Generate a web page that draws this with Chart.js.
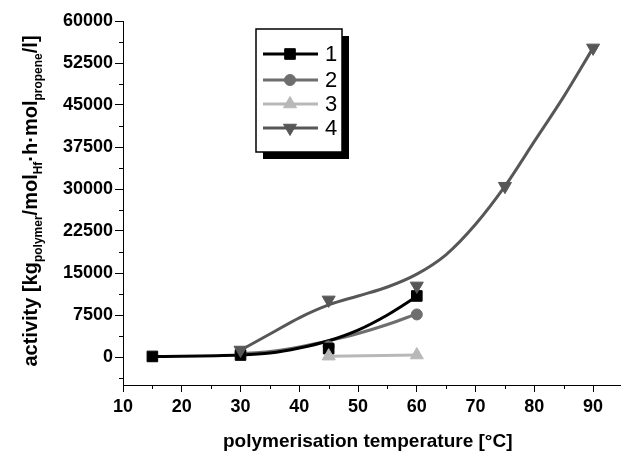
<!DOCTYPE html>
<html>
<head>
<meta charset="utf-8">
<script src="https://cdn.jsdelivr.net/npm/chart.js@4/dist/chart.umd.min.js"></script>
<style>
  html, body { margin: 0; padding: 0; background: #fff; overflow: hidden; }
  canvas { display: block; }
</style>
</head>
<body>
<canvas id="c" width="621" height="453"></canvas>
<script>
const labels = ['1', '2', '3', '4'];
const s1x = [15, 30, 45, 60];
const s1y = [100, 350, 1500, 10900];
const s2x = [30, 45, 60];
const s2y = [700, 1900, 7600];
const s3x = [45, 60];
const s3y = [150, 350];
const s4x = [30, 45, 60, 75, 90];
const s4y = [1250, 10200, 12700, 30500, 55200];

// smoothed curves as they run through the figure
const c1x = [15, 30, 35, 40, 45, 50, 55, 60];
const c1y = [100, 350, 700, 1600, 2900, 4800, 7500, 10800];
const c2x = [30, 35, 40, 45, 50, 55, 60];
const c2y = [600, 1000, 1800, 2900, 4200, 5800, 7700];
const c3x = [45, 60];
const c3y = [150, 350];
const c4x = [30, 35, 40, 45, 50, 55, 60, 65, 70, 75, 80, 85, 90];
const c4y = [1200, 4100, 7000, 9300, 10900, 12500, 14800, 18300, 23700, 30500, 38500, 46500, 55200];

const xTicks = [10, 20, 30, 40, 50, 60, 70, 80, 90];
const yTicks = [0, 7500, 15000, 22500, 30000, 37500, 45000, 52500, 60000];

const colors = ['#000000', '#6e6e6e', '#b8b8b8', '#575757'];
const styles = ['rect', 'circle', 'triangle', 'triangle'];
const rotations = [0, 0, 0, 180];
const radii = [7.5, 5.5, 7.5, 7.5];

const zip = (xs, ys) => xs.map((x, i) => ({ x: x, y: ys[i] }));

function markers(i, xs, ys) {
    return {
        label: labels[i],
        data: zip(xs, ys),
        showLine: false,
        pointStyle: styles[i],
        rotation: rotations[i],
        pointRadius: radii[i],
        backgroundColor: colors[i],
        borderColor: colors[i],
        borderWidth: 1
    };
}
function curve(i, xs, ys) {
    return {
        label: 'curve' + labels[i],
        data: zip(xs, ys),
        showLine: true,
        pointRadius: 0,
        borderColor: colors[i],
        borderWidth: 3,
        cubicInterpolationMode: 'monotone',
        fill: false
    };
}

const datasets = [
    markers(3, s4x, s4y),
    markers(2, s3x, s3y),
    markers(0, s1x, s1y),
    markers(1, s2x, s2y),
    curve(0, c1x, c1y),
    curve(3, c4x, c4y),
    curve(1, c2x, c2y),
    curve(2, c3x, c3y)
];

const extras = {
    id: 'extras',
    afterDraw(chart) {
        const ctx = chart.ctx;
        const xs = chart.scales.x, ys = chart.scales.y;
        const area = chart.chartArea;
        ctx.save();
        ctx.strokeStyle = '#000';
        ctx.lineWidth = 1;
        ctx.beginPath();
        // x axis line runs on to the right edge
        const by0 = Math.round(area.bottom) + 0.5;
        ctx.moveTo(area.right - 1, by0);
        ctx.lineTo(chart.width, by0);
        // minor ticks
        for (let v = 15; v <= 85; v += 10) {
            const px = Math.round(xs.getPixelForValue(v)) + 0.5;
            ctx.moveTo(px, area.bottom);
            ctx.lineTo(px, area.bottom + 4);
        }
        for (let v = -3750; v <= 56250; v += 7500) {
            const py = Math.round(ys.getPixelForValue(v)) + 0.5;
            ctx.moveTo(area.left, py);
            ctx.lineTo(area.left - 4, py);
        }
        ctx.stroke();

        // y axis title with subscripts
        const parts = [
            ['activity [kg', 0], ['polymer', 1], ['/mol', 0], ['Hf', 1],
            ['\u00b7h\u00b7mol', 0], ['propene', 1], ['/l]', 0]
        ];
        const mainFont = 'bold 20px "Liberation Sans", Arial, sans-serif';
        const subFont = 'bold 12px "Liberation Sans", Arial, sans-serif';
        let total = 0;
        parts.forEach(p => { ctx.font = p[1] ? subFont : mainFont; total += ctx.measureText(p[0]).width; });
        ctx.translate(37, 201);
        ctx.rotate(-Math.PI / 2);
        ctx.fillStyle = '#000';
        ctx.textBaseline = 'alphabetic';
        ctx.textAlign = 'left';
        let pos = -total / 2;
        parts.forEach(p => {
            ctx.font = p[1] ? subFont : mainFont;
            ctx.fillText(p[0], pos, p[1] ? 5 : 0);
            pos += ctx.measureText(p[0]).width;
        });
        ctx.restore();

        // legend box
        ctx.save();
        const bx = 256, by = 29, bw = 86, bh = 123;
        ctx.fillStyle = '#000';
        ctx.fillRect(bx + 7, by + 7, bw, bh);
        ctx.fillStyle = '#fff';
        ctx.fillRect(bx, by, bw, bh);
        ctx.strokeStyle = '#000';
        ctx.lineWidth = 1.5;
        ctx.strokeRect(bx, by, bw, bh);
        const rows = [54, 80, 104, 128];
        for (let i = 0; i < 4; i++) {
            ctx.strokeStyle = colors[i];
            ctx.fillStyle = colors[i];
            ctx.lineWidth = 3;
            ctx.beginPath();
            ctx.moveTo(263, rows[i]);
            ctx.lineTo(318, rows[i]);
            ctx.stroke();
            ctx.lineWidth = 1;
            Chart.helpers.drawPoint(ctx, {
                pointStyle: styles[i], rotation: rotations[i], radius: radii[i], borderWidth: 1
            }, 290, rows[i]);
            ctx.fillStyle = '#000';
            ctx.font = '22px "Liberation Sans", Arial, sans-serif';
            ctx.textBaseline = 'middle';
            ctx.fillText(labels[i], 325, rows[i] + 1);
        }
        ctx.restore();
    }
};

new Chart(document.getElementById('c'), {
    type: 'scatter',
    data: { datasets: datasets },
    options: {
        responsive: false,
        animation: false,
        layout: { padding: { top: 21, right: 0, left: 0, bottom: 0 } },
        plugins: { legend: { display: false }, tooltip: { enabled: false } },
        scales: {
            x: {
                type: 'linear',
                min: 10,
                max: 93.3,
                afterBuildTicks: s => { s.ticks = xTicks.map(v => ({ value: v })); },
                afterFit: s => { s.height = 68; },
                grid: { drawOnChartArea: false, drawTicks: true, tickLength: 7, color: '#000' },
                border: { display: true, color: '#000', width: 1 },
                ticks: {
                    color: '#000',
                    padding: 4,
                    maxRotation: 0,
                    callback: v => String(v),
                    font: { family: '"Liberation Sans", Arial, sans-serif', size: 18, weight: 'bold' }
                },
                title: {
                    display: true,
                    text: 'polymerisation temperature [\u00b0C]',
                    color: '#000',
                    padding: { top: 8, bottom: 0 },
                    font: { family: '"Liberation Sans", Arial, sans-serif', size: 19, weight: 'bold' }
                }
            },
            y: {
                type: 'linear',
                min: -5000,
                max: 60000,
                afterBuildTicks: s => { s.ticks = yTicks.map(v => ({ value: v })); },
                afterFit: s => { s.width = 123; },
                grid: { drawOnChartArea: false, drawTicks: true, tickLength: 8, color: '#000' },
                border: { display: true, color: '#000', width: 1 },
                ticks: {
                    color: '#000',
                    padding: 2,
                    callback: v => String(v),
                    font: { family: '"Liberation Sans", Arial, sans-serif', size: 18, weight: 'bold' }
                }
            }
        }
    },
    plugins: [extras]
});
</script>
</body>
</html>
